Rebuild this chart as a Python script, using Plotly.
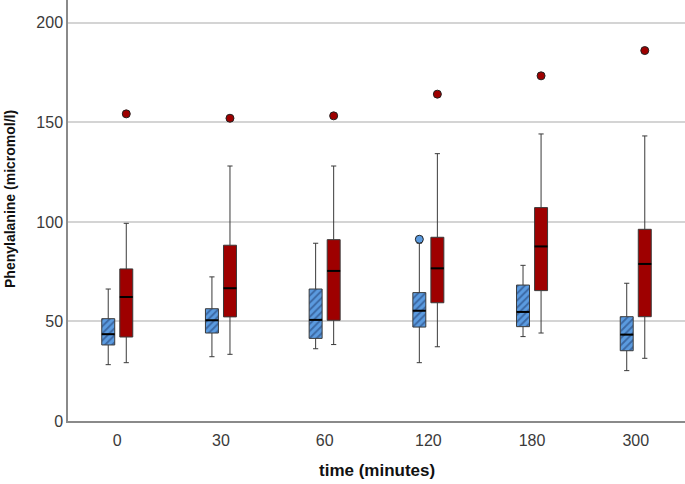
import numpy as np
import plotly.graph_objects as go

times = ["0", "30", "60", "120", "180", "300"]

# Group 1 (blue, hatched)
blue_lower = [28.3, 32.3, 36.3, 29.3, 42.4, 25.3]
blue_q1 = [38.2, 44.2, 41.5, 47.2, 47.4, 35.3]
blue_median = [43.6, 50.6, 50.8, 55.4, 54.8, 43.4]
blue_q3 = [51.4, 56.4, 66.3, 64.5, 68.3, 52.4]
blue_upper = [66.3, 72.4, 89.3, 89.3, 78.2, 69.2]
blue_out_time = ["120"]
blue_out_val = [91.3]

# Group 2 (red)
red_lower = [29.3, 33.5, 38.4, 37.3, 44.2, 31.5]
red_q1 = [42.2, 52.3, 50.6, 59.4, 65.5, 52.4]
red_median = [62.3, 66.7, 75.4, 76.7, 87.7, 78.9]
red_q3 = [76.4, 88.3, 91.1, 92.3, 107.2, 96.3]
red_upper = [99.3, 128.1, 128.1, 134.3, 144.2, 143.2]
red_out_time = ["0", "30", "60", "120", "180", "300"]
red_out_val = [154.3, 152.1, 153.3, 164.2, 173.4, 186.1]

BLUE = "#5B9BE0"
BLUE_DARK = "#1C3566"
RED = "#9E0000"
EDGE = "#3a3a3a"

offset = 0.087
bw = 0.125
idx = {t: i for i, t in enumerate(times)}
base = np.arange(len(times))
bpos = base - offset
rpos = base + offset

fig = go.Figure()

# hatched fill for blue boxes
fig.add_trace(go.Bar(
    x=bpos, base=blue_q1, y=np.array(blue_q3) - np.array(blue_q1), width=bw,
    marker=dict(color=BLUE, line=dict(width=0),
                pattern=dict(shape="/", fgcolor=BLUE_DARK, size=5, solidity=0.38)),
    showlegend=False, hoverinfo="skip"))

fig.add_trace(go.Box(
    x=bpos, q1=blue_q1, median=blue_median, q3=blue_q3,
    lowerfence=blue_lower, upperfence=blue_upper, width=bw,
    fillcolor="rgba(0,0,0,0)", line=dict(color=EDGE, width=1),
    whiskerwidth=0.4, showlegend=False))

fig.add_trace(go.Box(
    x=rpos, q1=red_q1, median=red_median, q3=red_q3,
    lowerfence=red_lower, upperfence=red_upper, width=bw,
    fillcolor=RED, line=dict(color=EDGE, width=1),
    whiskerwidth=0.4, showlegend=False))

# thicker black medians
def median_segments(pos, med):
    xs, ys = [], []
    for p, m in zip(pos, med):
        xs += [p - bw / 2, p + bw / 2, None]
        ys += [m, m, None]
    return xs, ys

for pos, med in [(bpos, blue_median), (rpos, red_median)]:
    xs, ys = median_segments(pos, med)
    fig.add_trace(go.Scatter(x=xs, y=ys, mode="lines",
                             line=dict(color="black", width=2),
                             showlegend=False, hoverinfo="skip"))

fig.add_trace(go.Scatter(
    x=[idx[t] - offset for t in blue_out_time], y=blue_out_val, mode="markers",
    marker=dict(color=BLUE, size=8, line=dict(color="#222", width=1)),
    showlegend=False))
fig.add_trace(go.Scatter(
    x=[idx[t] + offset for t in red_out_time], y=red_out_val, mode="markers",
    marker=dict(color=RED, size=8, line=dict(color="#222", width=1)),
    showlegend=False))

font = "Liberation Sans, Arial, sans-serif"
plot_h = 421
plot_w = 617
fig.update_layout(
    width=685, height=484,
    margin=dict(l=68, r=0, t=0, b=63),
    paper_bgcolor="white", plot_bgcolor="white",
    barmode="overlay",
    font=dict(family=font, size=16, color="#3a3a3a"),
    xaxis=dict(range=[-0.475, 5.475], tickmode="array", tickvals=list(base),
               ticktext=times, showgrid=False, zeroline=False,
               showline=True, linecolor="#8a8a8a", linewidth=1.5, ticks="",
               ticklabelstandoff=4),
    yaxis=dict(range=[0, 211.5], tickvals=[0, 50, 100, 150, 200],
               showgrid=True, gridcolor="#d4d4d4", gridwidth=1.5,
               zeroline=False, showline=True, linecolor="#8a8a8a", linewidth=1.5,
               ticks=""),
    annotations=[
        dict(text="<b>Phenylalanine (micromol/l)</b>", xref="paper", yref="paper",
             x=(10 - 68) / plot_w, y=(421 - 199) / plot_h, textangle=-90,
             showarrow=False, xanchor="center", yanchor="middle",
             font=dict(family=font, size=14, color="#111")),
        dict(text="<b>time (minutes)</b>", xref="paper", yref="paper",
             x=(376.5 - 68) / plot_w, y=-49 / plot_h, showarrow=False,
             xanchor="center", yanchor="middle",
             font=dict(family=font, size=17, color="#111")),
    ],
)

fig.write_html(
    "out.html",
    config={"displayModeBar": False},
    post_script="document.body.style.margin='0';document.body.style.overflow='hidden';",
)
